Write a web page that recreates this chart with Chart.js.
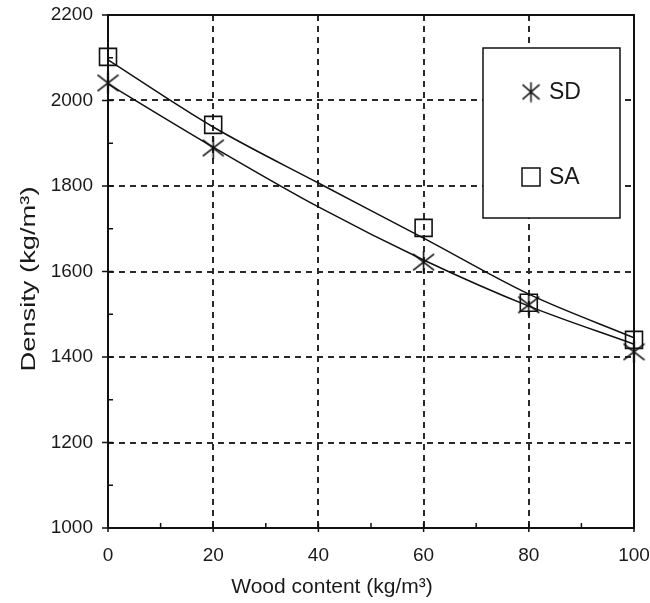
<!DOCTYPE html>
<html>
<head>
<meta charset="utf-8">
<script src="https://cdn.jsdelivr.net/npm/chart.js@4.4.1/dist/chart.umd.min.js"></script>
<style>
  html, body { margin: 0; padding: 0; background: #fff; }
  canvas { display: block; }
</style>
</head>
<body>
<canvas id="chart" width="650" height="603"></canvas>
<script>
// Measured densities at each wood content
const woodContent = [0, 20, 60, 80, 100];
const densitySD = [2041, 1889, 1622, 1522, 1412];
const densitySA = [2102, 1943, 1702, 1527, 1440];

// Trend curves through the measurements
const trendContent = [0, 20, 40, 60, 80, 100];
const trendSD = [2039, 1891, 1751, 1627, 1519, 1430];
const trendSA = [2095, 1938, 1807, 1678, 1547, 1445];

// Axis ticks and titles
const xTicks = [0, 20, 40, 60, 80, 100];
const yTicks = [1000, 1200, 1400, 1600, 1800, 2000, 2200];
const seriesNames = ['SD', 'SA'];
const xTitle = 'Wood content (kg/m³)';
const yTitle = 'Density (kg/m³)';

const INK = '#111';
const TEXT = '#1a1a1a';
const FONT = "'Liberation Sans', Arial, Helvetica, sans-serif";

// Six-armed asterisk marker: vertical stroke plus an X
function makeAsterisk(w, h, lw) {
  const c = document.createElement('canvas');
  c.width = w; c.height = h;
  const g = c.getContext('2d');
  g.strokeStyle = INK;
  g.lineWidth = lw;
  g.lineCap = 'butt';
  g.beginPath();
  g.moveTo(w / 2, 0.5); g.lineTo(w / 2, h - 0.5);
  g.moveTo(1, h * 0.15); g.lineTo(w - 1, h * 0.85);
  g.moveTo(w - 1, h * 0.15); g.lineTo(1, h * 0.85);
  g.stroke();
  return c;
}
const asterisk = makeAsterisk(23, 23, 1.6);
const asteriskLegend = makeAsterisk(19, 21, 1.5);

const pts = (xs, ys) => xs.map((x, i) => ({ x: x, y: ys[i] }));

// Dashed grid behind the data
const gridPlugin = {
  id: 'dashedGrid',
  beforeDatasetsDraw(chart) {
    const { ctx, chartArea: a, scales: { x, y } } = chart;
    ctx.save();
    ctx.setLineDash([6, 5]);
    ctx.lineWidth = 2;
    ctx.strokeStyle = '#2a2a2a';
    ctx.beginPath();
    xTicks.slice(1, -1).forEach(v => {
      const px = Math.round(x.getPixelForValue(v));
      ctx.moveTo(px, a.top); ctx.lineTo(px, a.bottom);
    });
    yTicks.slice(1, -1).forEach(v => {
      const py = Math.round(y.getPixelForValue(v));
      ctx.moveTo(a.left, py); ctx.lineTo(a.right, py);
    });
    ctx.stroke();
    ctx.restore();
  }
};

// Frame, tick marks, axis titles and the boxed legend on top of the data
const framePlugin = {
  id: 'frameAndLegend',
  afterDatasetsDraw(chart) {
    const { ctx, chartArea: a, scales: { x, y } } = chart;
    ctx.save();
    ctx.setLineDash([]);
    ctx.strokeStyle = INK;

    // tick marks
    ctx.lineWidth = 1.5;
    ctx.beginPath();
    for (let v = 0; v <= 100; v += 10) {
      const px = x.getPixelForValue(v);
      const major = v % 20 === 0;
      ctx.moveTo(px, a.bottom + (major ? 4 : 0));
      ctx.lineTo(px, a.bottom - 5);
    }
    for (let v = 1000; v <= 2200; v += 100) {
      const py = y.getPixelForValue(v);
      const major = v % 200 === 0;
      ctx.moveTo(a.left - (major ? 6 : 0), py);
      ctx.lineTo(a.left + 5, py);
    }
    ctx.stroke();

    // plot frame
    ctx.lineWidth = 2;
    ctx.strokeRect(a.left, a.top, a.right - a.left, a.bottom - a.top);

    // axis titles
    ctx.fillStyle = TEXT;
    ctx.font = '21px ' + FONT;
    ctx.textAlign = 'center';
    ctx.textBaseline = 'middle';
    ctx.fillText(xTitle, 332, 587);
    ctx.save();
    ctx.translate(29, 279);
    ctx.rotate(-Math.PI / 2);
    ctx.scale(1.3, 1);
    ctx.fillText(yTitle, 0, 0);
    ctx.restore();

    // legend box
    const bx = 483, by = 48, bw = 137, bh = 170;
    ctx.fillStyle = '#fff';
    ctx.fillRect(bx, by, bw, bh);
    ctx.lineWidth = 1.5;
    ctx.strokeRect(bx, by, bw, bh);

    const mx = 531, rowY = [92, 177];
    ctx.drawImage(asteriskLegend, mx - asteriskLegend.width / 2, rowY[0] - asteriskLegend.height / 2);
    ctx.lineWidth = 1.5;
    ctx.strokeRect(mx - 9, rowY[1] - 9, 18, 18);

    ctx.fillStyle = TEXT;
    ctx.font = '23px ' + FONT;
    ctx.textAlign = 'left';
    ctx.textBaseline = 'middle';
    seriesNames.forEach((name, i) => ctx.fillText(name, 549, rowY[i] + 1));
    ctx.restore();
  }
};

const plain = v => String(v);
const noEdgePadding = s => {
  s.paddingTop = 0; s.paddingBottom = 0; s.paddingLeft = 0; s.paddingRight = 0;
};

new Chart(document.getElementById('chart'), {
  type: 'scatter',
  data: {
    datasets: [
      {
        label: seriesNames[0] + ' trend',
        data: pts(trendContent, trendSD),
        showLine: true,
        pointRadius: 0,
        borderColor: INK,
        borderWidth: 1.5,
        cubicInterpolationMode: 'monotone',
        clip: false
      },
      {
        label: seriesNames[1] + ' trend',
        data: pts(trendContent, trendSA),
        showLine: true,
        pointRadius: 0,
        borderColor: INK,
        borderWidth: 1.5,
        cubicInterpolationMode: 'monotone',
        clip: false
      },
      {
        label: seriesNames[0],
        data: pts(woodContent, densitySD),
        showLine: false,
        pointStyle: asterisk,
        pointRadius: 11,
        borderColor: INK,
        clip: false
      },
      {
        label: seriesNames[1],
        data: pts(woodContent, densitySA),
        showLine: false,
        pointStyle: 'rect',
        pointRadius: 12,
        borderWidth: 1.6,
        borderColor: INK,
        backgroundColor: 'rgba(0,0,0,0)',
        clip: false
      }
    ]
  },
  options: {
    responsive: false,
    devicePixelRatio: 1,
    animation: false,
    layout: { padding: { top: 15, right: 16, left: 0, bottom: 0 } },
    plugins: {
      legend: { display: false },
      tooltip: { enabled: false }
    },
    scales: {
      x: {
        type: 'linear',
        min: 0,
        max: 100,
        afterBuildTicks: s => { s.ticks = xTicks.map(v => ({ value: v })); },
        afterFit: s => { s.height = 75; noEdgePadding(s); },
        grid: { display: false, drawTicks: false },
        border: { display: false },
        ticks: { color: TEXT, padding: 16, font: { family: FONT, size: 19 }, callback: plain },
        title: { display: false }
      },
      y: {
        type: 'linear',
        min: 1000,
        max: 2200,
        afterBuildTicks: s => { s.ticks = yTicks.map(v => ({ value: v })); },
        afterFit: s => { s.width = 108; noEdgePadding(s); },
        grid: { display: false, drawTicks: false },
        border: { display: false },
        ticks: { color: TEXT, padding: 15, font: { family: FONT, size: 19 }, callback: plain },
        title: { display: false }
      }
    }
  },
  plugins: [gridPlugin, framePlugin]
});
</script>
</body>
</html>
